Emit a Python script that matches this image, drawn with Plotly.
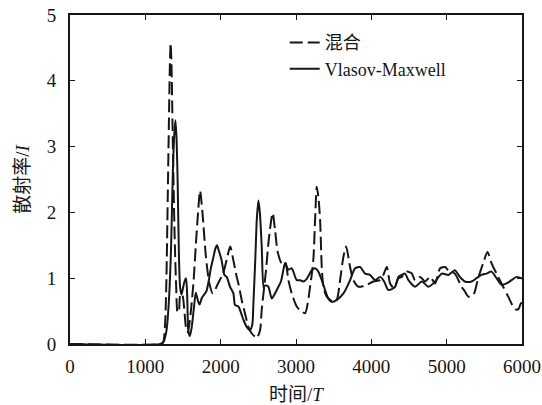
import plotly.graph_objects as go

# ---- data ----
t_hybrid = [0, 1200, 1235, 1262, 1280, 1297, 1312, 1325, 1336, 1348,
            1360, 1375, 1392, 1410, 1428, 1445, 1465, 1490, 1515, 1540,
            1565, 1600, 1640, 1670, 1700, 1726, 1758, 1804, 1850, 1896,
            1965, 2034, 2080, 2126, 2169, 2213, 2235, 2279, 2324, 2368,
            2412, 2456, 2479, 2523, 2545, 2600, 2640, 2690, 2722, 2757,
            2810, 2855, 2899, 2943, 3010, 3076, 3121, 3187, 3230, 3253,
            3276, 3300, 3320, 3342, 3364, 3408, 3497, 3541, 3585, 3630,
            3665, 3718, 3762, 3829, 3940, 4028, 4116, 4160, 4205, 4249,
            4300, 4360, 4404, 4470, 4537, 4581, 4648, 4714, 4780, 4847,
            4913, 4980, 5020, 5108, 5197, 5241, 5286, 5352, 5418, 5485,
            5542, 5595, 5662, 5750, 5817, 5883, 5927, 5958, 5985, 6000]
v_hybrid = [0, 0, 0.02, 0.3, 1.0, 2.2, 3.3, 4.2, 4.57, 4.2,
            3.4, 2.4, 1.5, 0.85, 0.48, 0.5, 0.75, 0.75, 0.55, 0.25,
            0.18, 0.45, 0.95, 1.5, 2.0, 2.33, 2.0, 1.33, 0.92, 0.77,
            0.92, 1.08, 1.28, 1.48, 1.27, 1.02, 0.92, 0.67, 0.46, 0.26,
            0.16, 0.11, 0.09, 0.21, 0.52, 1.1, 1.6, 1.99, 1.73, 1.4,
            1.23, 1.25, 0.97, 0.77, 0.57, 0.49, 0.47, 0.87, 1.28, 1.88,
            2.39, 2.2, 1.88, 1.17, 0.87, 0.72, 0.64, 0.67, 0.97, 1.33,
            1.48, 1.17, 0.97, 0.87, 0.9, 0.95, 0.97, 1.05, 1.17, 0.92,
            0.85, 1.0, 1.02, 1.1, 1.07, 0.97, 1.02, 0.95, 1.02, 0.92,
            1.15, 1.17, 1.12, 1.07, 0.87, 0.8, 0.72, 0.74, 1.0, 1.23,
            1.4, 1.23, 1.07, 0.87, 0.72, 0.57, 0.52, 0.54, 0.62, 0.62]

t_vm = [0, 1200, 1240, 1280, 1310, 1340, 1365, 1385, 1400, 1415,
        1430, 1445, 1461, 1480, 1500, 1520, 1540, 1555, 1571, 1590,
        1615, 1645, 1670, 1700, 1720, 1750, 1780, 1810, 1840, 1870,
        1900, 1930, 1951, 1975, 2011, 2050, 2080, 2124, 2169, 2191,
        2235, 2301, 2346, 2390, 2420, 2434, 2460, 2480, 2501, 2520,
        2545, 2570, 2589, 2633, 2678, 2722, 2766, 2800, 2833, 2855,
        2899, 2943, 3010, 3054, 3100, 3142, 3209, 3253, 3297, 3342,
        3386, 3430, 3475, 3541, 3630, 3718, 3784, 3851, 3917, 3983,
        4050, 4117, 4170, 4227, 4316, 4360, 4404, 4448, 4493, 4581,
        4670, 4758, 4847, 4935, 5024, 5108, 5175, 5241, 5330, 5396,
        5463, 5529, 5595, 5662, 5728, 5795, 5861, 5927, 5985, 6000]
v_vm = [0, 0, 0.03, 0.2, 0.6, 1.4, 2.6, 3.2, 3.4, 3.1,
        2.4, 1.4, 0.87, 0.75, 0.85, 0.95, 1.0, 0.75, 0.2, 0.12,
        0.25, 0.55, 0.78, 0.65, 0.6, 0.7, 0.75, 0.8, 0.95, 1.15,
        1.3, 1.45, 1.5, 1.42, 1.28, 1.05, 1.02, 0.87, 0.77, 0.59,
        0.57, 0.37, 0.26, 0.21, 0.3, 0.6, 1.3, 1.9, 2.18, 2.0,
        1.48, 0.85, 0.89, 0.87, 0.69, 0.77, 0.87, 0.95, 1.13, 1.23,
        1.13, 1.15, 0.97, 0.97, 0.95, 0.99, 1.12, 1.15, 1.1, 0.97,
        0.82, 0.69, 0.64, 0.67, 0.77, 0.97, 1.15, 1.17, 1.07, 1.05,
        0.97, 1.02, 0.95, 0.82, 0.87, 1.02, 1.05, 1.07, 0.97, 0.87,
        0.95, 0.87, 0.95, 1.07, 1.05, 1.12, 1.02, 0.95, 0.95, 1.0,
        1.05, 1.07, 1.1, 1.0, 0.9, 0.92, 0.97, 1.02, 1.0, 1.0]

assert len(t_hybrid) == len(v_hybrid)
assert len(t_vm) == len(v_vm)

x_ticks = [0, 1000, 2000, 3000, 4000, 5000, 6000]
y_ticks = [0, 1, 2, 3, 4, 5]

SERIF = "Liberation Serif, Noto Sans CJK SC, serif"
INK = "#161616"

fig = go.Figure()
fig.add_trace(go.Scatter(
    x=t_hybrid, y=v_hybrid, mode="lines", name="混合",
    line=dict(color=INK, width=2, dash="13px,5px", shape="spline", smoothing=0.7),
))
fig.add_trace(go.Scatter(
    x=t_vm, y=v_vm, mode="lines", name="Vlasov-Maxwell",
    line=dict(color=INK, width=2, shape="spline", smoothing=0.7),
))

axis_common = dict(
    showline=True, linecolor=INK, linewidth=2, mirror="ticks",
    ticks="inside", ticklen=5, tickwidth=1.3, tickcolor=INK,
    showgrid=False, zeroline=False, automargin=False,
    tickfont=dict(family=SERIF, size=19, color=INK),
)

fig.update_layout(
    width=542, height=405,
    margin=dict(l=70, r=20, t=15, b=61),
    paper_bgcolor="white", plot_bgcolor="white",
    xaxis=dict(range=[0, 6000], tickvals=x_ticks, ticktext=[str(v) for v in x_ticks],
               title=dict(text="时间/<i>T</i>", font=dict(family=SERIF, size=19, color=INK), standoff=14),
               ticklabelstandoff=4, **axis_common),
    yaxis=dict(range=[0, 5], tickvals=y_ticks, ticktext=[str(v) for v in y_ticks],
               title=dict(text="散射率/<i>I</i>", font=dict(family=SERIF, size=19, color=INK), standoff=12),
               ticklabelstandoff=8, **axis_common),
    showlegend=True,
    legend=dict(x=0.475, y=0.972, xanchor="left", yanchor="top",
                bgcolor="rgba(0,0,0,0)", font=dict(family=SERIF, size=18, color=INK),
                tracegroupgap=0, itemwidth=30),
)

fig.write_html("out.html")
